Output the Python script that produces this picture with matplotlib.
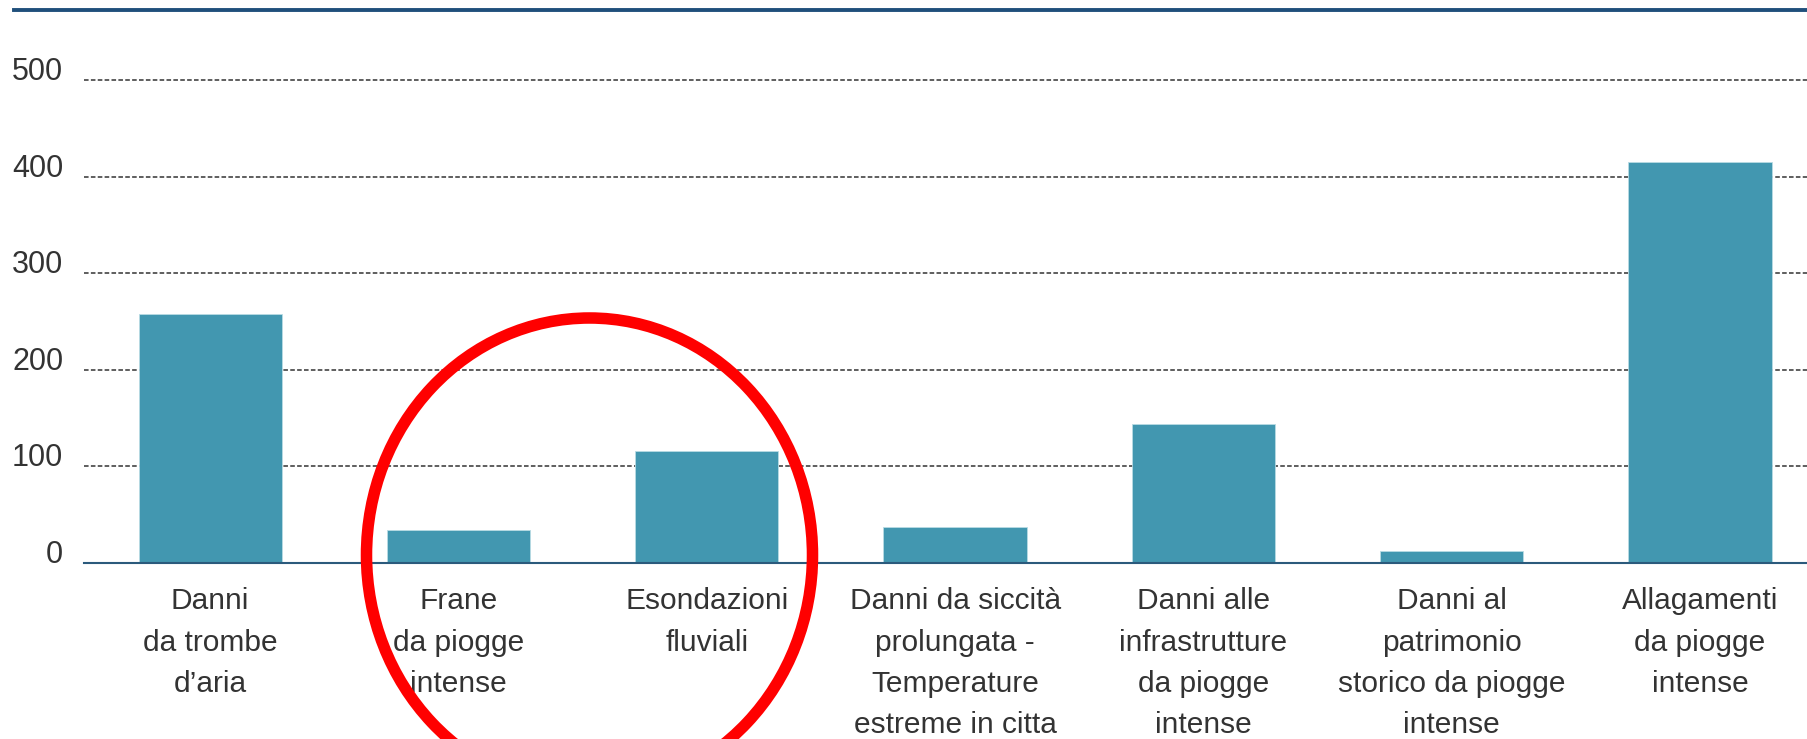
import matplotlib
matplotlib.use("Agg")
import matplotlib.pyplot as plt
from matplotlib.lines import Line2D
from matplotlib.patches import Ellipse

categories = [
    "Danni\nda trombe\nd\u2019aria",
    "Frane\nda piogge\nintense",
    "Esondazioni\nfluviali",
    "Danni da siccit\u00e0\nprolungata -\nTemperature\nestreme in citta",
    "Danni alle\ninfrastrutture\nda piogge\nintense",
    "Danni al\npatrimonio\nstorico da piogge\nintense",
    "Allagamenti\nda piogge\nintense",
]
values = [258, 34, 116, 37, 144, 12, 415]
yticks = [0, 100, 200, 300, 400, 500]

# no narrow face installed -> plain Liberation Sans, slightly smaller
plt.rcParams['font.family'] = ['Liberation Sans', 'DejaVu Sans']

W, H = 1808, 739
fig = plt.figure(figsize=(W / 100, H / 100), dpi=100)
ax = fig.add_axes([84 / W, 1 - 563 / H, 1 - 84 / W, (563 - 10) / H])

bar_color = "#4297b0"
text_color = "#333333"

x = list(range(len(values)))
ax.bar(x, values, width=0.577, color=bar_color, edgecolor="#b9dbe4",
       linewidth=0.6, zorder=3)

ax.set_xlim(-0.508, 6.435)
ax.set_ylim(0, 572.5)

# dashed horizontal grid
for v in yticks[1:]:
    ax.axhline(v, color="#333333", lw=1.1, ls=(0, (3, 1.5)), zorder=1)

ax.set_yticks(yticks)
ax.set_yticklabels([str(v) for v in yticks])
for lab in ax.get_yticklabels():
    lab.set_va("baseline")
ax.tick_params(axis="y", length=0, pad=15, labelsize=22, labelcolor=text_color)

ax.set_xticks(x)
ax.set_xticklabels(categories, linespacing=1.6)
ax.tick_params(axis="x", length=0, pad=17.5, labelsize=21.5, labelcolor=text_color)

for s in ["top", "right", "left"]:
    ax.spines[s].set_visible(False)
ax.spines["bottom"].set_color("#2b5a7c")
ax.spines["bottom"].set_linewidth(1.5)
ax.spines["bottom"].set_zorder(4)

# top rule across the figure
fig.add_artist(Line2D([14 / W, 1.0], [1 - 10 / H, 1 - 10 / H],
                      transform=fig.transFigure, color="#1f4f7b", lw=2.8))

# red highlight ellipse
fig.add_artist(Ellipse((589.5 / W, 1 - 555 / H), 446 / W, 474 / H,
                       transform=fig.transFigure, fill=False,
                       edgecolor="#ff0000", lw=8.3, zorder=10, clip_on=False))

fig.savefig("out.png", dpi=100)
